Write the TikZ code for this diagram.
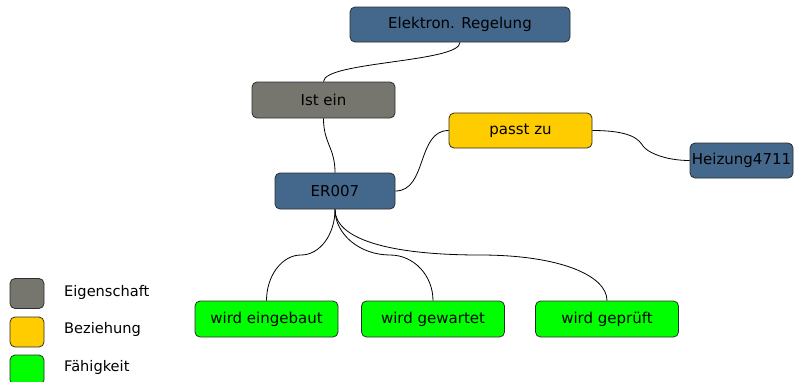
\documentclass[tikz,border=0pt]{standalone}
\usepackage{fontspec}
\setmainfont{DejaVu Sans}
\definecolor{nblue}{RGB}{68,104,140}
\definecolor{ngray}{RGB}{118,118,111}
\definecolor{nyellow}{RGB}{255,204,0}
\definecolor{ngreen}{RGB}{0,255,0}
\definecolor{nborder}{RGB}{45,45,45}
\begin{document}
\begin{tikzpicture}[x=1pt,y=-1pt,
  box/.style={draw=nborder,line width=0.8pt,rounded corners=5pt,inner sep=0pt,
    minimum height=35pt,font=\fontsize{15}{18}\selectfont,text=black},
  bluebox/.style={box,fill=nblue},
  graybox/.style={box,fill=ngray},
  yellowbox/.style={box,fill=nyellow},
  greenbox/.style={box,fill=ngreen,minimum width=143pt},
  legbox/.style={draw=nborder,line width=0.8pt,rounded corners=5pt,inner sep=0pt,minimum width=34pt,minimum height=30pt},
  legtext/.style={anchor=west,inner sep=0pt,font=\fontsize{14.6}{18}\selectfont},
  link/.style={draw=black,line width=0.8pt}]
\useasboundingbox (0,0) rectangle (794,381);
\node[bluebox,minimum width=220pt] (er) at (460,24.5) {Elektron. Regelung};
\node[graybox,minimum width=143pt,minimum height=36pt] (ist) at (323.5,100) {Ist ein};
\node[yellowbox,minimum width=143pt] (passt) at (520.5,130.5) {passt zu};
\node[bluebox,minimum width=103pt] (hz) at (741.5,160.5) {Heizung4711};
\node[bluebox,minimum width=120pt,minimum height=36pt] (e7) at (335,191) {ER007};
\node[greenbox,minimum height=36pt] (g1) at (266.5,319) {wird eingebaut};
\node[greenbox,minimum height=36pt] (g2) at (433,319) {wird gewartet};
\node[greenbox,minimum height=36pt] (g3) at (607,319) {wird geprüft};
% legend
\node[legbox,fill=ngray] (l1) at (27,293.5) {};
\node[legbox,fill=nyellow] (l2) at (27,332) {};
\node[legbox,fill=ngreen] (l3) at (27,370) {};
\node[legtext] (t1) at (64,292) {Eigenschaft};
\node[legtext] (t2) at (64,329) {Beziehung};
\node[legtext] (t3) at (64,367) {Fähigkeit};
% connectors
\coordinate (m1) at (301,255);
\coordinate (m2) at (390,255);
\coordinate (m3) at (480,255);
\coordinate (m4) at (643,146);
\draw[link] (er.south) .. controls +(0,20) and +(0,-20) .. (ist.north);
\draw[link] (ist.south) .. controls +(0,25) and +(0,-25) .. (e7.north);
\draw[link] (e7.east) .. controls +(32,0) and +(-32,0) .. (passt.west);
\draw[link] (passt.east) .. controls +(40,0) and +(-4,-6) .. (m4) .. controls +(4,6) and +(-25,0) .. (hz.west);
\draw[link] (e7.south) .. controls +(0,25) and +(19,0) .. (m1) .. controls +(-19,0) and +(0,-25) .. (g1.north);
\draw[link] (e7.south) .. controls +(0,25) and +(-30,0) .. (m2) .. controls +(24,0) and +(0,-25) .. (g2.north);
\draw[link] (e7.south) .. controls +(0,30) and +(-90,0) .. (m3) .. controls +(80,0) and +(0,-25) .. (g3.north);
\end{tikzpicture}
\end{document}
